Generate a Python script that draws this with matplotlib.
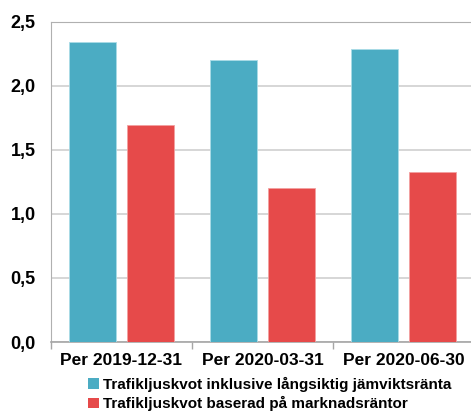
import numpy as np
import matplotlib
matplotlib.use('Agg')
import matplotlib.pyplot as plt
from matplotlib.patches import Patch

plt.rcParams['font.family'] = ['Liberation Sans', 'DejaVu Sans']
plt.rcParams['font.weight'] = 'bold'

# Trafikljuskvot per rapportdatum
categories = ['Per 2019-12-31', 'Per 2020-03-31', 'Per 2020-06-30']
kvot_jamvikt = [2.34, 2.20, 2.29]
kvot_marknad = [1.69, 1.20, 1.33]
series_names = ['Trafikljuskvot inklusive långsiktig jämviktsränta',
                'Trafikljuskvot baserad på marknadsräntor']
yticks = [0.0, 0.5, 1.0, 1.5, 2.0, 2.5]
ytick_labels = ['0,0', '0,5', '1,0', '1,5', '2,0', '2,5']

teal = '#4bacc3'
red = '#e64a4a'

fig = plt.figure(figsize=(4.71, 4.12), dpi=100)
ax = fig.add_axes([51 / 471, 70 / 412, 423 / 471, 320.3 / 412])

x = np.arange(len(categories))
w = 0.333
off = 0.203
ax.bar(x - off, kvot_jamvikt, w, color=teal, edgecolor='#a9dbe6', linewidth=0.6, zorder=3)
ax.bar(x + off, kvot_marknad, w, color=red, edgecolor='#f2a0a0', linewidth=0.6, zorder=3)

ax.set_xlim(-0.5, 2.5)
ax.set_ylim(0, 2.5)
ax.set_yticks(yticks)
ax.set_yticklabels(ytick_labels, fontsize=13, fontweight='bold')
ax.set_xticks(x)
ax.set_xticklabels(categories, fontsize=12.5, fontweight='bold')
ax.set_xticks([-0.5, 0.5, 1.5, 2.5], minor=True)
ax.tick_params(axis='x', which='major', length=0, pad=8)
ax.tick_params(axis='x', which='minor', length=5, color='#a6a6a6', width=1)
ax.tick_params(axis='y', length=0, pad=11)

ax.yaxis.grid(True, color='#cfcfcf', linewidth=1.2, zorder=0)
ax.set_axisbelow(True)
ax.spines['right'].set_visible(False)
ax.spines['top'].set_color('#b0b0b0')
ax.spines['left'].set_color('#b0b0b0')
ax.spines['bottom'].set_color('#a6a6a6')
ax.spines['bottom'].set_linewidth(1.2)

handles = [Patch(facecolor=teal, edgecolor='none'), Patch(facecolor=red, edgecolor='none')]
fig.legend(handles, series_names, loc='upper left', bbox_to_anchor=(88 / 471, 1 - 376.5 / 412),
           frameon=False, handlelength=0.7, handleheight=0.7,
           handletextpad=0.3, labelspacing=0.3, borderpad=0, borderaxespad=0,
           prop={'weight': 'bold', 'size': 11})

fig.savefig('out.png', dpi=100)
